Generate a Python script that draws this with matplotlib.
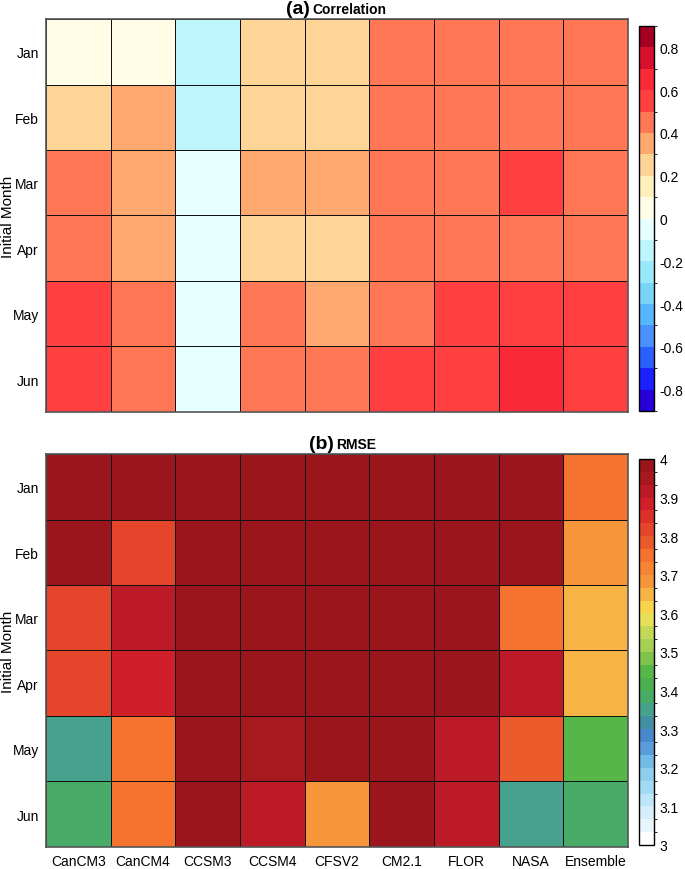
import numpy as np
import matplotlib
matplotlib.use('Agg')
import matplotlib.pyplot as plt
import matplotlib.colors as mcolors

plt.rcParams['font.family'] = ['Liberation Sans', 'DejaVu Sans']

models = ['CanCM3', 'CanCM4', 'CCSM3', 'CCSM4', 'CFSV2', 'CM2.1', 'FLOR', 'NASA', 'Ensemble']
months = ['Jan', 'Feb', 'Mar', 'Apr', 'May', 'Jun']

corr = np.array([
    [0.05, 0.05, -0.15, 0.25, 0.25, 0.45, 0.45, 0.45, 0.45],
    [0.25, 0.35, -0.15, 0.25, 0.25, 0.45, 0.45, 0.45, 0.45],
    [0.45, 0.35, -0.05, 0.35, 0.35, 0.45, 0.45, 0.55, 0.45],
    [0.45, 0.35, -0.05, 0.25, 0.25, 0.45, 0.45, 0.45, 0.45],
    [0.55, 0.45, -0.05, 0.45, 0.35, 0.45, 0.55, 0.55, 0.55],
    [0.55, 0.45, -0.05, 0.45, 0.45, 0.55, 0.55, 0.65, 0.55],
])

rmse = np.array([
    [3.98, 3.98, 3.98, 3.98, 3.98, 3.98, 3.98, 3.98, 3.75],
    [3.98, 3.82, 3.98, 3.98, 3.98, 3.98, 3.98, 3.98, 3.68],
    [3.82, 3.92, 3.98, 3.98, 3.98, 3.98, 3.98, 3.75, 3.65],
    [3.82, 3.88, 3.98, 3.98, 3.98, 3.98, 3.98, 3.92, 3.65],
    [3.35, 3.75, 3.98, 3.95, 3.98, 3.98, 3.92, 3.78, 3.45],
    [3.38, 3.75, 3.98, 3.92, 3.68, 3.98, 3.92, 3.35, 3.38],
])

# colour levels, bottom -> top
corr_cols = ['#2800d8', '#1a20ff', '#2a60ff', '#4a90ff', '#58b5ff', '#78d5f8',
             '#9ae8fb', '#bdf5fc', '#e6ffff', '#fffde6', '#fff0bb', '#ffd597',
             '#ffa870', '#ff7755', '#ff4040', '#fa2a38', '#d8102e', '#a50021']
rmse_cols = ['#ffffff', '#e8f5fc', '#d5eefa', '#bfe6f8', '#a3daf4', '#8ecfef',
             '#72bbe6', '#5a9cd8', '#4a88cc', '#418fa0', '#47a28d', '#48ab67',
             '#4cb050', '#55b748', '#7fc24c', '#a5cf55', '#c4d858', '#e8e058',
             '#f8d44c', '#f7b444', '#f7953b', '#f68533', '#f5732e', '#eb5a2a',
             '#e4452b', '#dc3029', '#d01f29', '#bc1a26', '#a8191f', '#9a161c']

corr_bounds = np.linspace(-0.9, 0.9, 19)
rmse_bounds = np.linspace(3.0, 4.0, 31)

fig = plt.figure(figsize=(6.85, 8.7), dpi=100)

def panel(rect, crect, data, cols, bounds, ticks, ticklabels, tag, name, split):
    ax = fig.add_axes(rect)
    cmap = mcolors.ListedColormap(cols)
    norm = mcolors.BoundaryNorm(bounds, cmap.N, clip=True)
    x = np.arange(len(models) + 1)
    y = np.arange(len(months) + 1)
    mp = ax.pcolormesh(x, y, data, cmap=cmap, norm=norm, edgecolor='#111111', linewidth=0.6)
    ax.set_xlim(0, len(models))
    ax.set_ylim(len(months), 0)
    ax.set_yticks(np.arange(len(months)) + 0.5)
    ax.set_yticklabels(months, fontsize=10)
    ax.set_xticks(np.arange(len(models)) + 0.5)
    ax.set_xticklabels(models if tag == '(b)' else [], fontsize=10)
    ax.tick_params(length=0, pad=5)
    ax.set_ylabel('Initial Month', fontsize=11)
    ax.yaxis.set_label_coords(-0.054, 0.5)
    for s in ax.spines.values():
        s.set_color('#555555')
        s.set_linewidth(1.2)
    ax.text(split, 1.006, tag, transform=ax.transAxes, ha='right', va='bottom',
            fontsize=14, fontweight='bold')
    ax.text(split + 0.004, 1.008, name, transform=ax.transAxes, ha='left', va='bottom',
            fontsize=10, fontweight='bold')
    cax = fig.add_axes(crect)
    cb = fig.colorbar(mp, cax=cax, ticks=ticks)
    cb.ax.set_yticklabels(ticklabels, fontsize=10)
    cb.ax.tick_params(length=0, pad=4)
    cb.outline.set_linewidth(1.0)
    return ax

corr_ticks = np.round(np.arange(-0.8, 0.81, 0.2), 1)
corr_labels = ['0' if t == 0 else f'{t:g}' for t in corr_ticks]
rmse_ticks = np.round(np.arange(3.0, 4.01, 0.1), 1)
rmse_labels = [f'{t:g}' for t in rmse_ticks]

panel([0.0672, 0.5253, 0.8496, 0.4517], [0.933, 0.5264, 0.0219, 0.4425],
      corr, corr_cols, corr_bounds, corr_ticks, corr_labels, '(a)', 'Correlation', 0.454)
panel([0.0672, 0.0253, 0.8496, 0.4517], [0.933, 0.0276, 0.0219, 0.4437],
      rmse, rmse_cols, rmse_bounds, rmse_ticks, rmse_labels, '(b)', 'RMSE', 0.495)

fig.savefig('out.png', dpi=100)
